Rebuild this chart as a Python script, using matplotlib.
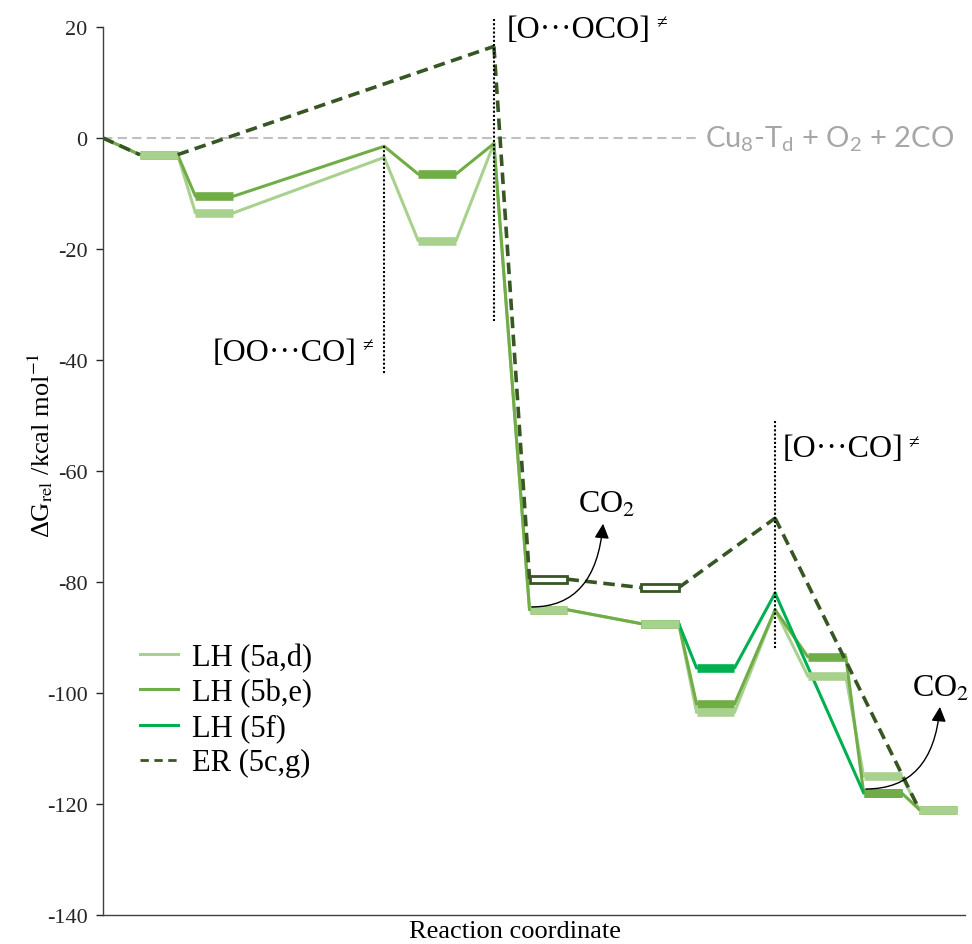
import matplotlib.pyplot as plt
from matplotlib.lines import Line2D
from matplotlib.patches import Rectangle

plt.rcParams['font.family'] = ['Liberation Serif', 'DejaVu Serif']
plt.rcParams['mathtext.fontset'] = 'stix'
plt.rcParams['mathtext.rm'] = 'Lato'
plt.rcParams['mathtext.it'] = 'Lato:italic'
plt.rcParams['axes.unicode_minus'] = False

# =============================
# DATA (kcal/mol)
# =============================
# slot along the reaction coordinate, and whether the point is a TS/start (no bar)
slots = [0, 1, 2, 5.05, 6, 7.02, 8, 10, 11, 12.07, 13, 14, 15]
is_ts = [True, False, False, True, False, True, False, False, False, True, False, False, False]

lh_ad = [0, -3, -13.5, -3.5, -18.5, -1, -85, -87.5, -103.5, -85, -97, -115, -121]
lh_be = [0, -3, -10.5, -1.5, -6.5, -1, -85, -87.5, -102, -85, -93.5, -118, -121]

lh_f_slots = [10, 11, 12.07, 14]
lh_f_ts = [False, False, True, False]
lh_f = [-87.5, -95.5, -82, -118]

er_slots = [0, 1, 7.02, 8, 10, 12.07, 15]
er_ts = [True, False, True, False, False, True, False]
er = [0, -3, 16.5, -79.5, -81, -68.5, -121]
er_hollow = [8, 10]          # slots where the ER level is its own (hollow) bar

ts_marks = [5.05, 7.02, 12.07]
ts_lines = [(-1.5, -42.5), (21.5, -33), (-51, -92)]
ts_labels = ["[OO···CO]", "[O···OCO]", "[O···CO]"]

series_labels = ["LH (5a,d)", "LH (5b,e)", "LH (5f)", "ER (5c,g)"]

C_AD = "#A9D18E"
C_BE = "#70AD47"
C_F = "#00B050"
C_ER = "#375623"
HW = 0.34


def pieces(xs, ys, ts):
    out = []
    for x, y, t in zip(xs, ys, ts):
        if t:
            out.append((x, x, y))
        else:
            out.append((x - HW, x + HW, y))
    return out


def draw_lh(ax, xs, ys, ts, color, zbar):
    pcs = pieces(xs, ys, ts)
    for a, b in zip(pcs[:-1], pcs[1:]):
        ax.plot([a[1], b[0]], [a[2], b[2]], color=color, lw=2.2, zorder=2,
                solid_capstyle="round")
    for (x0, x1, y), t in zip(pcs, ts):
        if not t:
            ax.plot([x0, x1], [y, y], color=color, lw=6.2, zorder=zbar,
                    solid_capstyle="butt")


fig = plt.figure(figsize=(9.72, 9.45), dpi=100)
ax = fig.add_axes([103 / 972, 29 / 945, 862 / 972, 888 / 945])

# reference line at 0
ax.plot([0, 10.72], [0, 0], color="#BFBFBF", lw=1.5, dashes=(4.5, 2.5), zorder=1)
ax.text(10.81, 0, "Cu$_\\mathrm{8}$-T$_\\mathrm{d}$ + O$_\\mathrm{2}$ + 2CO",
        family="Lato", math_fontfamily="custom", fontsize=21, color="#A6A6A6",
        va="center", ha="left", clip_on=False)

draw_lh(ax, slots, lh_ad, is_ts, C_AD, 4)
draw_lh(ax, slots, lh_be, is_ts, C_BE, 3.5)
draw_lh(ax, lh_f_slots, lh_f, lh_f_ts, C_F, 3)

# ER path (dashed), hollow bars where it has its own levels
pcs = pieces(er_slots, er, er_ts)
for a, b in zip(pcs[:-1], pcs[1:]):
    ax.plot([a[1], b[0]], [a[2], b[2]], color=C_ER, lw=2.6, dashes=(3.2, 1.8),
            zorder=6)
for x, y in zip(er_slots, er):
    if x in er_hollow:
        ax.add_patch(Rectangle((x - HW, y - 0.6), 2 * HW, 1.2, fc="white",
                               ec=C_ER, lw=2, zorder=7))

# transition states
for x, (y0, y1) in zip(ts_marks, ts_lines):
    ax.plot([x, x], [y0, y1], color="black", lw=1.5, ls=(0, (1, 1)), zorder=8,
            clip_on=False)
ts_pos = [(1.97, -38.6), (7.25, 19.6), (12.2, -56)]
for (x, y), lab in zip(ts_pos, ts_labels):
    t = ax.text(x, y, lab, fontsize=23, va="center")
    ax.annotate("≠", xy=(1, 0.72), xycoords=t, xytext=(4, 0),
                textcoords="offset points", fontsize=14, ha="left", va="center")

# CO2 release
ax.text(8.53, -67.4, "CO$_2$", fontsize=23, va="baseline")
ax.annotate("", xy=(8.98, -69.5), xytext=(7.7, -84.5),
            arrowprops=dict(arrowstyle="-|>", color="black", lw=1,
                            mutation_scale=22, shrinkA=0, shrinkB=0,
                            connectionstyle="angle3,angleA=0,angleB=85"),
            zorder=9)
ax.text(14.52, -100.5, "CO$_2$", fontsize=23, va="baseline")
ax.annotate("", xy=(15.03, -102.5), xytext=(13.7, -117.3),
            arrowprops=dict(arrowstyle="-|>", color="black", lw=1,
                            mutation_scale=22, shrinkA=0, shrinkB=0,
                            connectionstyle="angle3,angleA=0,angleB=85"),
            zorder=9)

# axes
ax.set_xlim(0, 15.48)
ax.set_ylim(-140, 20)
ax.set_xticks([])
ax.set_yticks(range(-140, 21, 20))
ax.tick_params(axis="y", length=5, width=1, pad=6, labelsize=16,
               colors="#262626")
for s in ["top", "right"]:
    ax.spines[s].set_visible(False)
for s in ["left", "bottom"]:
    ax.spines[s].set_color("#404040")
    ax.spines[s].set_linewidth(1)

fig.text(515 / 972, 1 - 932 / 945, "Reaction coordinate", fontsize=19,
         ha="center", va="center")
fig.text(40 / 972, 1 - 445 / 945, "ΔG$_\\mathrm{rel}$ /kcal mol$^{-1}$",
         fontsize=19, rotation=90, ha="center", va="center")

handles = [
    Line2D([], [], color=C_AD, lw=2.2),
    Line2D([], [], color=C_BE, lw=2.2),
    Line2D([], [], color=C_F, lw=2.2),
    Line2D([], [], color=C_ER, lw=2, dashes=(3, 2)),
]
ax.legend(handles, series_labels, loc="center left",
          bbox_to_anchor=(0.0429, 0.2309), frameon=False, fontsize=22,
          handlelength=1.24, handletextpad=0.46, labelspacing=0.2,
          borderpad=0, borderaxespad=0)

fig.savefig("out.png", dpi=100)
